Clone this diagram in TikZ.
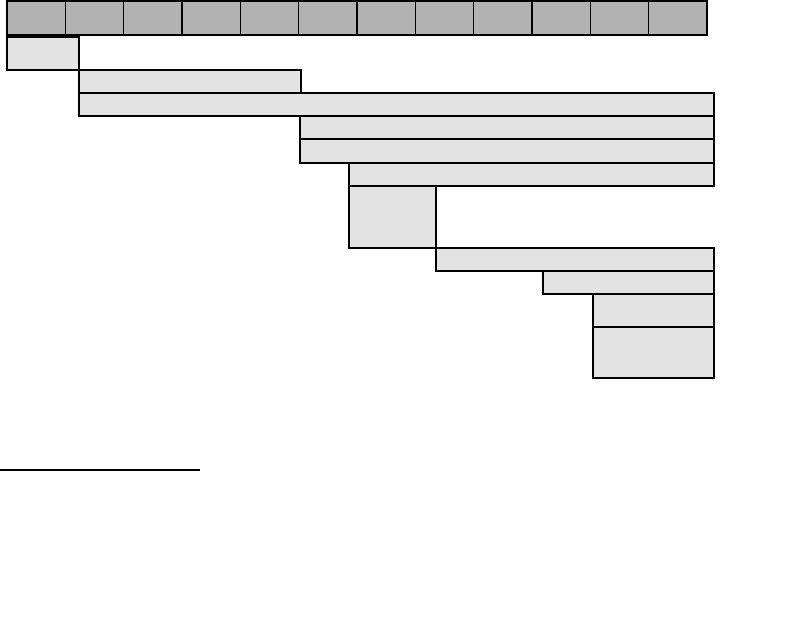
\documentclass[tikz,border=0pt]{standalone}
\usepackage{tikz}
\usetikzlibrary{positioning}
\definecolor{headgray}{gray}{0.70}
\definecolor{barfill}{gray}{0.89}
\tikzset{
    headcell/.style={draw, line width=1.5pt, fill=headgray, anchor=north west,
        inner sep=0pt, outer sep=0pt, minimum width=58.33pt, minimum height=34pt},
    barbox/.style={draw, line width=1.5pt, fill=barfill, anchor=north west,
        inner sep=0pt, outer sep=0pt}
}
\newcommand{\taskbar}[5]{%
    \node[barbox, minimum width=#4pt, minimum height=#5pt] (#1) at (#2,#3) {};}
\begin{document}
\begin{tikzpicture}[x=1pt, y=-1pt]
        \useasboundingbox (0,0) rectangle (794,625);
        % header row
        \foreach \i in {0,...,11}
            \node[headcell] (h\i) at (7+\i*58.33,0.8) {};
        % bars
        \taskbar{b1}{7}{37}{72}{33}
        \taskbar{b2}{79}{70}{222}{23}
        \taskbar{b3}{79}{93}{635}{23}
        \taskbar{b4}{300}{116}{414}{23}
        \taskbar{b5}{300}{139}{414}{24}
        \taskbar{b6}{349}{163}{365}{23}
        \taskbar{b7}{349}{186}{87}{62}
        \taskbar{b8}{436}{248}{278}{23}
        \taskbar{b9}{543}{271}{171}{23}
        \taskbar{b10}{593}{294}{121}{33}
        \taskbar{b11}{593}{327}{121}{51}
        % rule
        \coordinate (ruleA) at (0,470);
        \coordinate (ruleB) at (200,470);
        \draw[line width=1.2pt] (ruleA) -- (ruleB);
    \end{tikzpicture}
\end{document}
